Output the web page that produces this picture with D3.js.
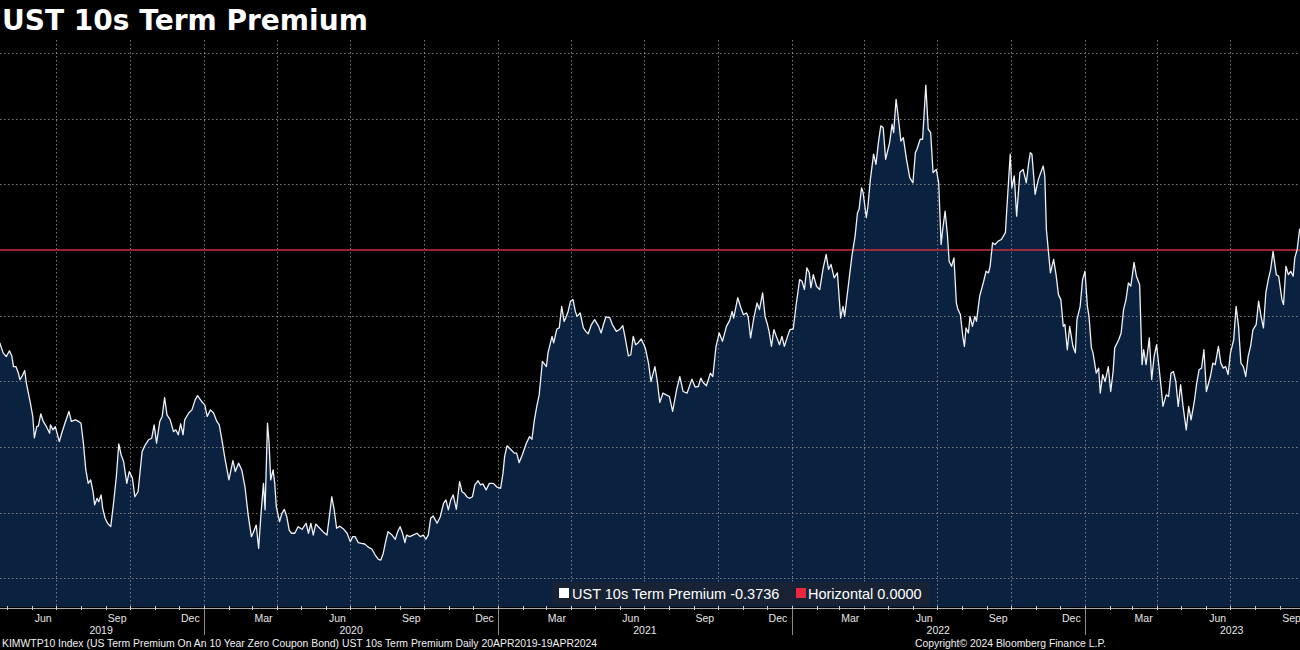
<!DOCTYPE html>
<html>
<head>
<meta charset="utf-8">
<script src="https://cdn.jsdelivr.net/npm/d3@7"></script>
<style>
  html, body { margin: 0; padding: 0; background: #000; overflow: hidden; }
  svg { display: block; }
</style>
</head>
<body>
<svg id="chart" width="1300" height="650"></svg>
<script>
// ---------------- DATA ----------------
const title = "UST 10s Term Premium";
const startDate = "2019-04-20";
const endDate = "2024-04-19";
// days since startDate
const dayOffsets = [0,2,6,10,14,17,19,22,25,27,30,33,35,40,43,45,48,50,53,56,60,64,65,68,71,73,76,79,83,88,91,96,100,103,106,109,112,115,118,120,123,125,128,130,133,136,140,143,147,150,153,156,160,163,167,170,174,179,183,187,191,194,197,201,204,207,210,214,218,221,224,227,230,232,237,241,245,248,253,257,260,264,268,272,275,279,282,287,292,295,299,303,307,311,315,317,321,324,327,330,332,335,337,339,342,344,346,350,353,356,359,362,365,369,373,378,383,386,389,392,395,400,404,409,413,415,418,421,425,430,434,438,441,444,448,452,456,460,465,469,473,476,479,482,485,490,494,497,500,503,506,508,512,516,521,525,529,532,535,538,541,546,550,554,557,560,563,566,570,574,577,580,583,586,590,593,597,600,603,607,611,616,620,625,628,630,633,638,642,645,648,652,657,661,664,667,670,673,677,682,684,689,691,695,698,701,704,706,709,712,715,718,720,724,728,731,734,738,742,747,750,753,756,761,764,769,773,777,780,784,787,790,793,796,800,805,809,812,817,820,823,827,831,835,839,844,848,852,857,863,867,871,874,877,881,886,889,893,897,901,906,910,913,915,920,924,927,931,933,936,940,944,947,951,954,957,959,962,965,968,972,975,978,982,985,989,993,997,1000,1003,1006,1009,1011,1014,1018,1022,1026,1030,1033,1036,1040,1044,1048,1051,1053,1058,1062,1066,1069,1071,1074,1076,1080,1082,1085,1089,1092,1095,1098,1101,1104,1109,1112,1114,1117,1120,1123,1126,1130,1134,1138,1141,1143,1147,1150,1154,1157,1160,1163,1167,1170,1173,1175,1178,1181,1183,1186,1189,1192,1194,1197,1200,1202,1204,1207,1209,1212,1215,1217,1221,1226,1229,1232,1234,1237,1240,1244,1248,1253,1255,1259,1261,1264,1267,1271,1275,1279,1282,1284,1286,1290,1294,1300,1302,1304,1309,1313,1316,1319,1322,1325,1327,1330,1333,1337,1340,1342,1346,1349,1352,1355,1357,1360,1362,1366,1369,1371,1374,1377,1381,1384,1387,1389,1394,1397,1400,1403,1406,1409,1411,1413,1416,1420,1423,1425,1428,1432,1435,1438,1441,1444,1447,1449,1453,1456,1459,1462,1465,1468,1471,1474,1478,1481,1484,1488,1491,1494,1497,1500,1503,1508,1511,1514,1518,1521,1524,1527,1530,1533,1537,1540,1543,1546,1549,1552,1555,1558,1561,1565,1568,1571,1574,1577,1580,1583,1586,1590,1593,1597,1599,1602,1605,1608,1611,1613,1616,1619,1622];
const premium = [-0.350,-0.354,-0.391,-0.406,-0.384,-0.405,-0.444,-0.444,-0.468,-0.494,-0.479,-0.459,-0.506,-0.582,-0.634,-0.716,-0.673,-0.670,-0.624,-0.653,-0.673,-0.698,-0.666,-0.685,-0.673,-0.695,-0.730,-0.698,-0.660,-0.615,-0.653,-0.647,-0.653,-0.660,-0.736,-0.838,-0.889,-0.876,-0.921,-0.971,-0.946,-0.959,-0.933,-0.984,-1.022,-1.041,-1.054,-0.978,-0.863,-0.739,-0.781,-0.806,-0.889,-0.844,-0.869,-0.940,-0.921,-0.768,-0.742,-0.723,-0.717,-0.666,-0.736,-0.653,-0.634,-0.562,-0.628,-0.647,-0.692,-0.685,-0.704,-0.662,-0.704,-0.647,-0.621,-0.609,-0.571,-0.555,-0.577,-0.590,-0.634,-0.609,-0.621,-0.653,-0.666,-0.736,-0.793,-0.876,-0.802,-0.844,-0.812,-0.838,-0.902,-1.010,-1.092,-1.079,-1.048,-1.137,-1.003,-0.889,-0.990,-0.660,-0.736,-0.876,-0.838,-0.889,-0.978,-1.035,-1.003,-0.988,-1.016,-1.067,-1.079,-1.079,-1.054,-1.064,-1.041,-1.079,-1.041,-1.086,-1.044,-1.060,-1.073,-1.086,-0.990,-0.940,-0.990,-1.060,-1.052,-1.064,-1.079,-1.111,-1.092,-1.092,-1.115,-1.118,-1.120,-1.131,-1.140,-1.162,-1.179,-1.181,-1.156,-1.111,-1.073,-1.086,-1.102,-1.073,-1.054,-1.079,-1.115,-1.086,-1.092,-1.086,-1.079,-1.092,-1.086,-1.102,-1.086,-1.022,-1.013,-1.041,-1.016,-0.965,-0.952,-0.990,-0.952,-0.933,-0.988,-0.882,-0.921,-0.927,-0.940,-0.946,-0.940,-0.895,-0.879,-0.895,-0.891,-0.914,-0.889,-0.889,-0.902,-0.908,-0.850,-0.787,-0.746,-0.761,-0.774,-0.774,-0.810,-0.781,-0.736,-0.711,-0.721,-0.648,-0.596,-0.552,-0.424,-0.444,-0.392,-0.329,-0.354,-0.301,-0.297,-0.215,-0.272,-0.259,-0.234,-0.195,-0.189,-0.234,-0.253,-0.240,-0.297,-0.310,-0.319,-0.284,-0.265,-0.291,-0.316,-0.284,-0.255,-0.259,-0.284,-0.310,-0.303,-0.288,-0.335,-0.403,-0.399,-0.329,-0.361,-0.354,-0.339,-0.373,-0.431,-0.501,-0.444,-0.501,-0.581,-0.545,-0.552,-0.558,-0.615,-0.532,-0.482,-0.539,-0.545,-0.492,-0.522,-0.520,-0.488,-0.505,-0.517,-0.469,-0.482,-0.367,-0.316,-0.348,-0.291,-0.268,-0.234,-0.259,-0.182,-0.221,-0.246,-0.240,-0.255,-0.335,-0.259,-0.202,-0.227,-0.163,-0.253,-0.284,-0.310,-0.367,-0.303,-0.329,-0.361,-0.329,-0.367,-0.329,-0.303,-0.301,-0.202,-0.113,-0.119,-0.151,-0.068,-0.087,-0.144,-0.094,-0.138,-0.151,-0.074,-0.017,-0.074,-0.055,-0.106,-0.087,-0.259,-0.215,-0.253,-0.125,-0.024,0.053,0.142,0.155,0.237,0.218,0.123,0.167,0.269,0.365,0.326,0.409,0.473,0.466,0.345,0.409,0.479,0.447,0.574,0.498,0.415,0.428,0.345,0.276,0.256,0.371,0.384,0.422,0.422,0.628,0.460,0.447,0.295,0.307,0.256,0.021,0.078,0.148,0.053,-0.043,-0.062,-0.030,-0.202,-0.227,-0.246,-0.329,-0.367,-0.297,-0.316,-0.253,-0.291,-0.253,-0.272,-0.176,-0.119,-0.081,-0.087,-0.062,0.027,0.021,0.034,0.040,0.066,0.167,0.365,0.237,0.282,0.129,0.295,0.307,0.256,0.333,0.371,0.365,0.212,0.269,0.320,0.282,0.078,-0.087,-0.036,-0.094,-0.170,-0.189,-0.291,-0.284,-0.380,-0.291,-0.367,-0.392,-0.265,-0.215,-0.113,-0.081,-0.215,-0.253,-0.373,-0.392,-0.469,-0.450,-0.545,-0.475,-0.501,-0.444,-0.539,-0.463,-0.373,-0.342,-0.316,-0.227,-0.189,-0.125,-0.138,-0.094,-0.047,-0.100,-0.132,-0.437,-0.380,-0.437,-0.335,-0.494,-0.405,-0.361,-0.444,-0.532,-0.596,-0.552,-0.558,-0.469,-0.463,-0.501,-0.596,-0.513,-0.596,-0.685,-0.596,-0.647,-0.577,-0.507,-0.456,-0.450,-0.380,-0.539,-0.482,-0.431,-0.437,-0.367,-0.431,-0.450,-0.444,-0.475,-0.392,-0.342,-0.215,-0.291,-0.431,-0.444,-0.482,-0.405,-0.367,-0.303,-0.284,-0.195,-0.253,-0.297,-0.163,-0.113,-0.074,-0.005,-0.094,-0.100,-0.189,-0.208,-0.062,-0.094,-0.081,-0.100,-0.030,0.002,0.078,0.090];
const horizontalValue = 0.0;
const gridValues = [-1.25, -1.0, -0.75, -0.5, -0.25, 0, 0.25, 0.5, 0.75];
const monthNames = ["Jan","Feb","Mar","Apr","May","Jun","Jul","Aug","Sep","Oct","Nov","Dec"];
const labelMonths = ["Mar","Jun","Sep","Dec"];
const legendLabels = ["UST 10s Term Premium -0.3736", "Horizontal 0.0000"];
const footerLeft = "KIMWTP10 Index (US Term Premium On An 10 Year Zero Coupon Bond) UST 10s Term Premium  Daily 20APR2019-19APR2024";
const footerRight = "Copyright\u00A9 2024 Bloomberg Finance L.P.";

// ---------------- CHART ----------------
const W = 1300, H = 650;
const plotTop = 40, plotBottom = 607;
const svg = d3.select("#chart");
svg.append("rect").attr("width", W).attr("height", H).attr("fill", "#000");

const start = new Date(startDate + "T00:00:00Z");
const end = new Date(endDate + "T00:00:00Z");
const x = d3.scaleUtc().domain([start, end]).range([-1.8, 1466]);
const y = d3.scaleLinear().domain([-1.36, 0.80]).range([plotBottom, plotTop]);

const data = dayOffsets.map((d, i) => ({ date: d3.utcDay.offset(start, d), v: premium[i] }));

svg.append("defs").append("clipPath").attr("id", "plotclip")
  .append("rect").attr("x", 0).attr("y", plotTop - 5).attr("width", W).attr("height", plotBottom - plotTop + 5);

const plot = svg.append("g").attr("clip-path", "url(#plotclip)");

// area
plot.append("path").datum(data)
  .attr("fill", "#0a2140")
  .attr("d", d3.area().x(d => x(d.date)).y0(plotBottom).y1(d => y(d.v)));

// gridlines
const gridColor = "#7d7d7d";
plot.append("g").selectAll("line").data(gridValues.filter(v => v !== horizontalValue)).join("line")
  .attr("x1", 0).attr("x2", W)
  .attr("y1", d => Math.round(y(d)) + 0.5).attr("y2", d => Math.round(y(d)) + 0.5)
  .attr("stroke", gridColor).attr("stroke-width", 1).attr("stroke-dasharray", "1.5,2.5");

const months = d3.utcMonth.range(d3.utcMonth.ceil(start), end);
const visibleMonths = months.filter(m => x(m) <= W);
const quarterStarts = visibleMonths.filter(m => m.getUTCMonth() % 3 === 0);
plot.append("g").selectAll("line").data(quarterStarts).join("line")
  .attr("x1", d => Math.round(x(d)) + 0.5).attr("x2", d => Math.round(x(d)) + 0.5)
  .attr("y1", plotTop).attr("y2", plotBottom)
  .attr("stroke", gridColor).attr("stroke-width", 1).attr("stroke-dasharray", "1.5,2.5");

// horizontal red line
plot.append("line")
  .attr("x1", 0).attr("x2", W)
  .attr("y1", y(horizontalValue)).attr("y2", y(horizontalValue))
  .attr("stroke", "#cf2d3f").attr("stroke-width", 1.4);

// series line
plot.append("path").datum(data)
  .attr("fill", "none")
  .attr("stroke", "#eef2f7").attr("stroke-width", 1.3).attr("stroke-linejoin", "round")
  .attr("d", d3.line().x(d => x(d.date)).y(d => y(d.v)));

// legend
const legendFont = "Liberation Sans, Arial, sans-serif";
const lg = svg.append("g");
lg.append("rect").attr("x", 552).attr("y", 582).attr("width", 378).attr("height", 23).attr("fill", "#172334");
lg.append("rect").attr("x", 559).attr("y", 588).attr("width", 10).attr("height", 10).attr("fill", "#ffffff");
lg.append("text").attr("x", 572).attr("y", 598.5).text(legendLabels[0])
  .attr("fill", "#fff").attr("font-family", legendFont).attr("font-size", 14.5);
lg.append("rect").attr("x", 796).attr("y", 588).attr("width", 10).attr("height", 10).attr("fill", "#e8283f");
lg.append("text").attr("x", 808).attr("y", 598.5).text(legendLabels[1])
  .attr("fill", "#fff").attr("font-family", legendFont).attr("font-size", 14.5);

// x axis line and ticks
const axisG = svg.append("g");
axisG.append("line").attr("x1", 0).attr("x2", W).attr("y1", plotBottom + 1.5).attr("y2", plotBottom + 1.5)
  .attr("stroke", "#a8a8a8").attr("stroke-width", 1.2);
axisG.selectAll("line.tick").data(visibleMonths).join("line").attr("class", "tick")
  .attr("x1", d => Math.round(x(d)) + 0.5).attr("x2", d => Math.round(x(d)) + 0.5)
  .attr("y1", plotBottom - 1).attr("y2", plotBottom + 3)
  .attr("stroke", "#cfcfcf").attr("stroke-width", 1);

// year separators
const yearStarts = d3.utcYear.range(d3.utcYear.ceil(start), end).filter(d => x(d) <= W);
axisG.selectAll("line.ysep").data(yearStarts).join("line").attr("class", "ysep")
  .attr("x1", d => Math.round(x(d)) + 0.5).attr("x2", d => Math.round(x(d)) + 0.5)
  .attr("y1", plotBottom + 2).attr("y2", 635)
  .attr("stroke", "#8a8a8a").attr("stroke-width", 1);

const labelFont = "Liberation Sans, Arial, sans-serif";
// month labels (only those that fall on the visible part of the page)
const labelDates = months.filter(m => labelMonths.includes(monthNames[m.getUTCMonth()]))
  .map(m => d3.utcDay.offset(m, 14))
  .filter(d => x(d) < W);
axisG.selectAll("text.mlab").data(labelDates).join("text").attr("class", "mlab")
  .attr("x", d => x(d)).attr("y", 621.5).attr("text-anchor", "middle")
  .attr("fill", "#e6e6e6").attr("font-family", labelFont).attr("font-size", 10.5)
  .text(d => monthNames[d.getUTCMonth()]);

// year labels
const years = d3.utcYear.range(d3.utcYear.floor(start), end);
const yearCenter = d => {
  const a = d < start ? start : d;
  const nx = d3.utcYear.offset(d, 1);
  const b = nx > end ? end : nx;
  return (x(a) + x(b)) / 2;
};
axisG.selectAll("text.ylab").data(years.filter(d => yearCenter(d) < W - 15)).join("text").attr("class", "ylab")
  .attr("x", yearCenter)
  .attr("y", 633.5).attr("text-anchor", "middle")
  .attr("fill", "#e6e6e6").attr("font-family", labelFont).attr("font-size", 10.5)
  .text(d => d.getUTCFullYear());

// title
const t = svg.append("text").attr("x", 2).attr("y", 29.5).text(title)
  .attr("fill", "#fff").attr("font-family", "DejaVu Sans, Verdana, sans-serif")
  .attr("font-weight", "bold").attr("font-size", 28);
const tw = t.node().getComputedTextLength();
t.attr("font-size", 28 * 366 / tw);

// footer
function fitText(str, x0, targetW, baseline) {
  const el = svg.append("text").attr("x", x0).attr("y", baseline).text(str)
    .attr("fill", "#f0f0f0").attr("font-family", labelFont).attr("font-size", 10);
  const w = el.node().getComputedTextLength();
  el.attr("font-size", 10 * targetW / w);
}
fitText(footerLeft, 2, 596, 646.5);
fitText(footerRight, 915, 191, 646.5);
</script>
</body>
</html>
